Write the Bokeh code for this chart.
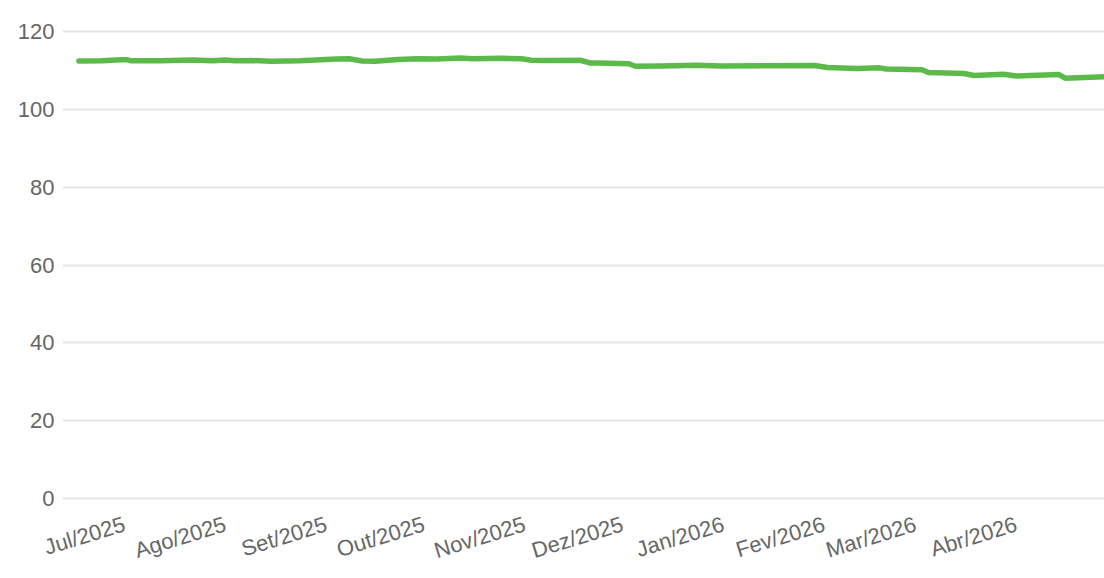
import math
from datetime import datetime
import pandas as pd
from bokeh.plotting import figure
from bokeh.models import Range1d, FixedTicker, ColumnDataSource
from bokeh.embed import file_html
from bokeh.resources import INLINE

# ---- data ----
dates = [
    "2025-06-17", "2025-06-24", "2025-06-30", "2025-07-02", "2025-07-03",
    "2025-07-12", "2025-07-22", "2025-07-28", "2025-08-01", "2025-08-04",
    "2025-08-09", "2025-08-15", "2025-08-24", "2025-09-04", "2025-09-08",
    "2025-09-12", "2025-09-16", "2025-09-23", "2025-09-29", "2025-10-05",
    "2025-10-12", "2025-10-16", "2025-10-25", "2025-10-31", "2025-11-03",
    "2025-11-08", "2025-11-18", "2025-11-21", "2025-11-24", "2025-12-03",
    "2025-12-05", "2025-12-13", "2025-12-24", "2025-12-31", "2026-01-14",
    "2026-01-29", "2026-02-02", "2026-02-11", "2026-02-18", "2026-02-20",
    "2026-03-03", "2026-03-05", "2026-03-16", "2026-03-19", "2026-03-28",
    "2026-04-01", "2026-04-14", "2026-04-16", "2026-04-28",
]
values = [
    112.4, 112.5, 112.75, 112.7, 112.45,
    112.45, 112.65, 112.45, 112.65, 112.45,
    112.55, 112.35, 112.45, 112.9, 113.0,
    112.4, 112.35, 112.8, 113.0, 112.9,
    113.2, 113.0, 113.1, 113.0, 112.6,
    112.55, 112.6, 111.9, 111.9, 111.7,
    111.05, 111.1, 111.3, 111.1, 111.2,
    111.25, 110.75, 110.5, 110.65, 110.35,
    110.15, 109.45, 109.2, 108.7, 109.0,
    108.55, 108.95, 108.0, 108.35,
]
tick_dates = ["2025-07-01", "2025-08-01", "2025-09-01", "2025-10-01", "2025-11-01",
              "2025-12-01", "2026-01-01", "2026-02-01", "2026-03-01", "2026-04-01"]
tick_labels = ["Jul/2025", "Ago/2025", "Set/2025", "Out/2025", "Nov/2025",
               "Dez/2025", "Jan/2026", "Fev/2026", "Mar/2026", "Abr/2026"]
y_ticks = [0, 20, 40, 60, 80, 100, 120]

# ---- build ----
src = ColumnDataSource(dict(x=pd.to_datetime(dates), y=values))

p = figure(width=1104, height=578, x_axis_type="datetime",
           output_backend="svg", toolbar_location=None,
           x_range=Range1d(datetime(2025, 6, 11, 23), datetime(2026, 4, 28, 2)),
           y_range=Range1d(-0.5, 120.5))
p.min_border_left = 62
p.min_border_right = 0
p.min_border_top = 29
p.min_border_bottom = 78
p.outline_line_color = None
p.background_fill_color = "white"
p.border_fill_color = "white"

p.line("x", "y", source=src, line_color="#5cba4b", line_width=5.5,
       line_join="round", line_cap="round")

tick_ms = [pd.Timestamp(d).value / 1e6 for d in tick_dates]
p.xaxis.ticker = FixedTicker(ticks=tick_ms)
p.xaxis.major_label_overrides = {t: lab for t, lab in zip(tick_ms, tick_labels)}
p.xaxis.major_label_orientation = math.radians(17)
p.yaxis.ticker = FixedTicker(ticks=y_ticks)

for ax in (p.xaxis, p.yaxis):
    ax.axis_line_color = None
    ax.major_tick_line_color = None
    ax.minor_tick_line_color = None
    ax.major_tick_in = 0
    ax.major_tick_out = 0
    ax.minor_tick_in = 0
    ax.minor_tick_out = 0
    ax.major_label_text_font = "Liberation Sans"
    ax.major_label_text_font_size = "22px"
    ax.major_label_text_color = "#666666"
p.yaxis.major_label_standoff = 8
p.xaxis.major_label_standoff = 23

p.xgrid.grid_line_color = None
p.ygrid.grid_line_color = "#e6e6e6"
p.ygrid.grid_line_width = 2

open("out.html", "w").write(file_html(p, INLINE))
